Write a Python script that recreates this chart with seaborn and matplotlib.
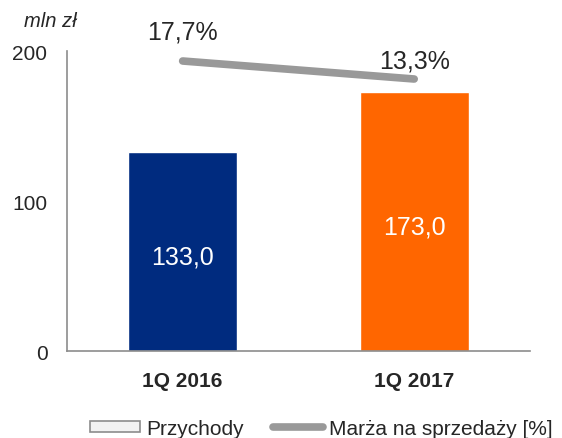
import matplotlib
matplotlib.use('Agg')
import matplotlib.pyplot as plt
import seaborn as sns
from matplotlib.patches import Patch
from matplotlib.lines import Line2D

quarters = ['1Q 2016', '1Q 2017']
revenue = [133.0, 173.0]
margin = [17.7, 13.3]
bar_colors = ['#002B7F', '#FF6600']

sns.set_style('white')
plt.rcParams['font.family'] = ['Liberation Sans', 'DejaVu Sans']

fig = plt.figure(figsize=(5.62, 4.39), dpi=100)
ax = fig.add_axes([0.119, 0.198, 0.824, 0.6835])

sns.barplot(x=quarters, y=revenue, hue=quarters, palette=bar_colors,
            width=0.47, legend=False, ax=ax, saturation=1)
ax.set_xlim(-0.5, 1.5)
ax.set_ylim(0, 200)
ax.set_yticks([0, 100, 200])
ax.tick_params(axis='both', length=0, labelsize=15)
ax.tick_params(axis='y', pad=14)
ax.tick_params(axis='x', pad=14)
for lbl in ax.get_xticklabels():
    lbl.set_fontweight('bold')
ax.set_xlabel('')
ax.set_ylabel('')
for s in ['top', 'right']:
    ax.spines[s].set_visible(False)
for s in ['left', 'bottom']:
    ax.spines[s].set_color('#8c8c8c')
    ax.spines[s].set_linewidth(1.2)

# bar value labels
for i, v in enumerate(revenue):
    ax.annotate(f'{v:.1f}'.replace('.', ','), (i, v / 2), xytext=(0, -4),
                textcoords='offset points', ha='center', va='center',
                color='white', fontsize=18)

# margin line on secondary axis
ax2 = ax.twinx()
sns.lineplot(x=[0, 1], y=margin, ax=ax2, color='#999999', linewidth=5.5,
             solid_capstyle='round', legend=False)
ax2.set_ylim(-53.2, 20.14)
ax2.set_xlim(-0.5, 1.5)
ax2.axis('off')
label_offsets = [21, 13]
for i, m in enumerate(margin):
    ax2.annotate(f'{m:.1f}%'.replace('.', ','), (i, m), xytext=(0, label_offsets[i]),
                 textcoords='offset points', ha='center', va='center', fontsize=18)

fig.text(0.089, 0.952, 'mln zł', fontsize=14.5, style='italic', ha='center', va='center')

handles = [Patch(facecolor='#f2f2f2', edgecolor='#8c8c8c', linewidth=1.2),
           Line2D([0], [0], color='#999999', linewidth=5.5, solid_capstyle='round')]
fig.legend(handles, ['Przychody', 'Marża na sprzedaży [%]'], loc='center',
           bbox_to_anchor=(0.572, 0.022), ncol=2, frameon=False, fontsize=15,
           handlelength=2.4, handleheight=0.5, handletextpad=0.3, columnspacing=1.4,
           borderpad=0, borderaxespad=0)

fig.savefig('out.png', dpi=100)
